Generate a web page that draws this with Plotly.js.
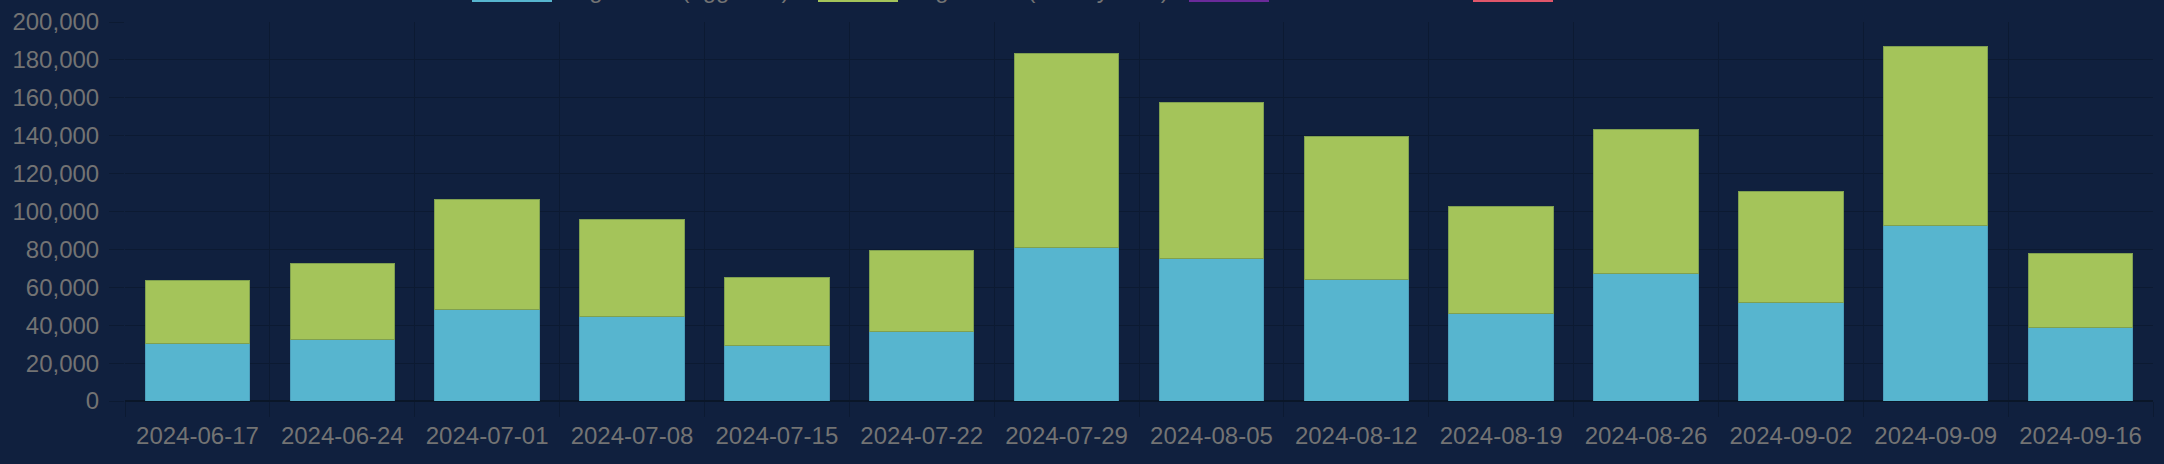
<!DOCTYPE html>
<html>
<head>
<meta charset="utf-8">
<script src="https://cdn.plot.ly/plotly-3.0.1.min.js"></script>
<style>
  html, body { margin: 0; padding: 0; background: #10203e; }
  #chart { width: 2164px; height: 464px; }
</style>
</head>
<body>
<div id="chart"></div>
<script>
const weeks = [
  "2024-06-17", "2024-06-24", "2024-07-01", "2024-07-08", "2024-07-15",
  "2024-07-22", "2024-07-29", "2024-08-05", "2024-08-12", "2024-08-19",
  "2024-08-26", "2024-09-02", "2024-09-09", "2024-09-16"
]
const aggValues = [30300, 32400, 48200, 44500, 29400, 36900, 80900, 75100, 64000, 46300, 67200, 51900, 92500, 38900]
const weeklyValues = [33400, 39900, 58000, 51200, 35700, 42400, 102700, 82300, 75800, 56400, 76200, 58900, 94500, 39000]

const legendNames = ["Migrations (agg total)", "Migrations (weekly total)", "Cumulative Total", "Total Users"]
const legendColors = ["#57b5cf", "#a4c45a", "#6a2a9a", "#e0566a"]

// plot box in pixels
const W = 2164, H = 464
const L = 125, R = 11, T = 21.7, B = 63.3
const plotW = W - L - R
const plotH = H - T - B
const px = (x) => (x - L) / plotW
const py = (y) => (H - B - y) / plotH

const grid = "#0c1a32"
const textCol = "#737373"
const font = "Liberation Sans, Arial, Helvetica, sans-serif"

const data = [
  {
    type: "bar",
    x: weeks,
    y: aggValues,
    name: legendNames[0],
    marker: { color: legendColors[0], line: { color: "#4d9fbc", width: 1 } },
    showlegend: false,
  },
  {
    type: "bar",
    x: weeks,
    y: weeklyValues,
    name: legendNames[1],
    marker: { color: legendColors[1], line: { color: "#7fa050", width: 1 } },
    showlegend: false,
  },
]

// chart.js style legend, cut off at the top edge like the original
const legendLeft = [472, 818, 1189, 1473]
const shapes = []
const annotations = []
legendNames.forEach((n, i) => {
  shapes.push({
    type: "rect",
    xref: "paper",
    yref: "paper",
    x0: px(legendLeft[i]),
    x1: px(legendLeft[i] + 80),
    y0: py(-22.3),
    y1: py(1.7),
    fillcolor: legendColors[i],
    line: { width: 0 },
  })
  annotations.push({
    xref: "paper",
    yref: "paper",
    x: px(legendLeft[i] + 90),
    y: py(-10.3),
    xanchor: "left",
    yanchor: "middle",
    text: n,
    showarrow: false,
    font: { family: font, size: 24, color: textCol },
  })
})

const layout = {
  width: W,
  height: H,
  barmode: "stack",
  bargap: 0.28,
  paper_bgcolor: "#10203e",
  plot_bgcolor: "#10203e",
  margin: { l: L, r: R, t: T, b: B, autoexpand: false },
  font: { family: font, size: 24, color: textCol },
  showlegend: false,
  xaxis: {
    type: "category",
    tickson: "boundaries",
    ticks: "outside",
    ticklen: 15,
    tickwidth: 1,
    tickcolor: grid,
    gridcolor: grid,
    showgrid: true,
    showline: false,
    ticklabelstandoff: 18,
    tickfont: { family: font, size: 24, color: textCol },
  },
  yaxis: {
    range: [0, 200000],
    dtick: 20000,
    tickformat: ",d",
    ticks: "outside",
    ticklen: 15,
    tickwidth: 1,
    tickcolor: grid,
    gridcolor: grid,
    zeroline: true,
    zerolinecolor: "#0a1628",
    zerolinewidth: 2,
    showline: false,
    ticklabelstandoff: 5,
    tickfont: { family: font, size: 24, color: textCol },
  },
  shapes: shapes,
  annotations: annotations,
}

Plotly.newPlot("chart", data, layout, { displayModeBar: false, staticPlot: true })
</script>
</body>
</html>
